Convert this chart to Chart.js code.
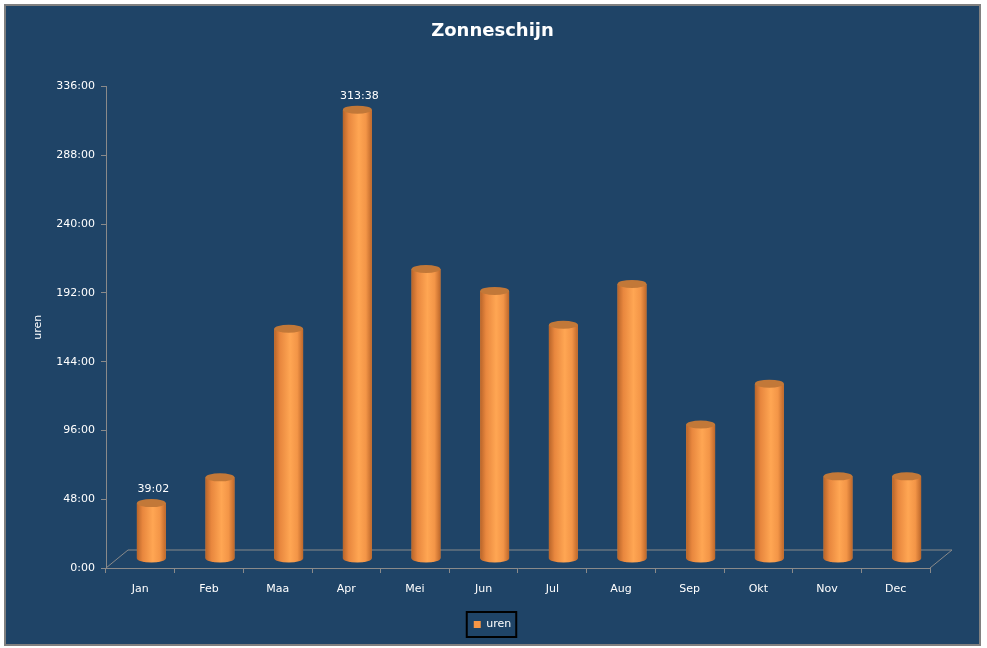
<!DOCTYPE html>
<html>
<head>
<meta charset="utf-8">
<title>Zonneschijn</title>
<script src="https://cdn.jsdelivr.net/npm/chart.js@4.4.1/dist/chart.umd.min.js"></script>
<style>
    html, body { margin: 0; padding: 0; background: #ffffff; }
    #frame {
        position: absolute; left: 4px; top: 4px;
        width: 973px; height: 638px;
        border: 2px solid #808080;
        background: #1F4467;
    }
</style>
</head>
<body>
<div id="frame"><canvas id="sunChart" width="973" height="638"></canvas></div>
<script>
// Data (hours, decimal)
const months = ['Jan', 'Feb', 'Maa', 'Apr', 'Mei', 'Jun', 'Jul', 'Aug', 'Sep', 'Okt', 'Nov', 'Dec'];
const sunHours = [39.033, 57.0, 160.7, 313.633, 202.4, 187.1, 163.5, 192.0, 93.9, 122.4, 57.7, 57.7];
const hourTicks = [0, 48, 96, 144, 192, 240, 288, 336];
const labelledMonths = ['Jan', 'Apr'];

// depth of the 3D floor
const depthX = 22;
const depthY = 18;

function toHM(v) {
    let h = Math.floor(v);
    let m = Math.round((v - h) * 60);
    if (m === 60) { h += 1; m = 0; }
    return h + ':' + String(m).padStart(2, '0');
}

const fontFamily = '"DejaVu Sans", Verdana, sans-serif';
Chart.defaults.font.family = fontFamily;
Chart.defaults.color = '#ffffff';

// floor + cylinders drawn on top of the library's bar elements
const cylinderPlugin = {
    id: 'cylinders',
    beforeDatasetsDraw(chart) {
        const ctx = chart.ctx;
        const a = chart.chartArea;
        ctx.save();
        ctx.strokeStyle = '#8a8a8a';
        ctx.lineWidth = 1;
        ctx.beginPath();
        ctx.moveTo(a.left, a.bottom);
        ctx.lineTo(a.left + depthX, a.bottom - depthY);
        ctx.lineTo(a.right + depthX, a.bottom - depthY);
        ctx.lineTo(a.right, a.bottom);
        ctx.stroke();
        ctx.restore();

        ctx.save();
        ctx.translate(depthX / 2, -depthY / 2);
    },
    afterDatasetsDraw(chart) {
        const ctx = chart.ctx;
        const meta = chart.getDatasetMeta(0);
        meta.data.forEach((bar, i) => {
            const w = bar.width;
            const left = bar.x - w / 2;
            const ry = 4;
            const g = ctx.createLinearGradient(left, 0, left + w, 0);
            g.addColorStop(0, '#B9652A');
            g.addColorStop(0.2, '#E8873E');
            g.addColorStop(0.55, '#FFA653');
            g.addColorStop(0.8, '#F39547');
            g.addColorStop(1, '#BE682B');

            // body with rounded bottom
            ctx.fillStyle = g;
            ctx.beginPath();
            ctx.moveTo(left, bar.y);
            ctx.lineTo(left, bar.base);
            ctx.ellipse(bar.x, bar.base, w / 2, ry, 0, Math.PI, 0, true);
            ctx.lineTo(left + w, bar.y);
            ctx.closePath();
            ctx.fill();

            // top
            ctx.fillStyle = '#C27838';
            ctx.beginPath();
            ctx.ellipse(bar.x, bar.y, w / 2, ry, 0, 0, Math.PI * 2);
            ctx.fill();

            if (labelledMonths.includes(months[i])) {
                ctx.fillStyle = '#ffffff';
                ctx.font = '11px ' + fontFamily;
                ctx.textAlign = 'center';
                ctx.textBaseline = 'middle';
                ctx.fillText(toHM(sunHours[i]), bar.x + 2, bar.y - 14);
            }
        });
        ctx.restore();
    },
    afterDraw(chart) {
        const boxes = chart.legend && chart.legend.legendHitBoxes;
        if (!boxes || !boxes.length) return;
        const b = boxes[0];
        const ctx = chart.ctx;
        ctx.save();
        ctx.strokeStyle = '#000000';
        ctx.lineWidth = 2;
        ctx.strokeRect(b.left - 7, b.top - 7, b.width + 12, b.height + 14);
        ctx.restore();
    }
};

new Chart(document.getElementById('sunChart'), {
    type: 'bar',
    data: {
        labels: months,
        datasets: [{
            label: 'uren',
            data: sunHours,
            backgroundColor: '#F79646',
            borderWidth: 0,
            categoryPercentage: 1,
            barPercentage: 0.42
        }]
    },
    options: {
        responsive: false,
        animation: false,
        devicePixelRatio: 1,
        layout: { padding: { left: 0, right: 0, top: 0, bottom: 4 } },
        plugins: {
            title: {
                display: true,
                text: 'Zonneschijn',
                color: '#ffffff',
                font: { size: 18, weight: 'bold' },
                padding: { top: 15, bottom: 44 }
            },
            legend: {
                position: 'bottom',
                labels: {
                    boxWidth: 7,
                    boxHeight: 7,
                    padding: 8,
                    color: '#ffffff',
                    font: { size: 11 }
                }
            },
            tooltip: { enabled: false }
        },
        scales: {
            x: {
                grid: { drawOnChartArea: false, tickLength: 5, color: '#8a8a8a' },
                border: { color: '#8a8a8a' },
                ticks: { color: '#ffffff', font: { size: 11 }, padding: 10 },
                afterFit(scale) { scale.height = 43; }
            },
            y: {
                min: hourTicks[0],
                max: hourTicks[hourTicks.length - 1],
                grid: { drawOnChartArea: false, tickLength: 5, color: '#8a8a8a' },
                border: { color: '#8a8a8a' },
                ticks: {
                    stepSize: hourTicks[1] - hourTicks[0],
                    color: '#ffffff',
                    font: { size: 11 },
                    padding: 6,
                    callback: v => toHM(v)
                },
                title: {
                    display: true,
                    text: 'uren',
                    color: '#ffffff',
                    font: { size: 11 },
                    padding: { top: 26, bottom: 0 }
                },
                afterFit(scale) { scale.width = 100; }
            },
            // empty right-hand spacer so the floor depth fits and title/legend stay centred
            spacer: {
                type: 'linear',
                position: 'right',
                display: true,
                grid: { display: false },
                border: { display: false },
                ticks: { display: false },
                afterFit(scale) { scale.width = 49; }
            }
        }
    },
    plugins: [cylinderPlugin]
});
</script>
</body>
</html>
